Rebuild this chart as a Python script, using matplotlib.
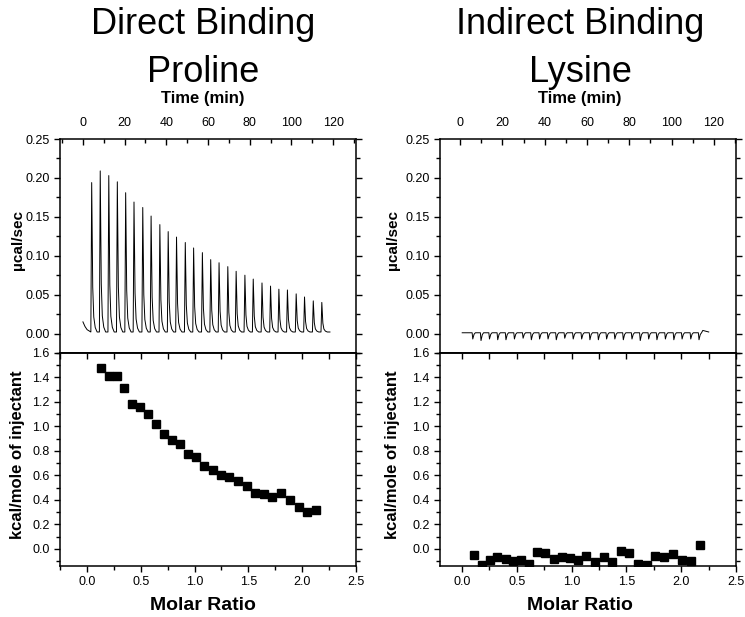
import matplotlib
matplotlib.use("Agg")
import matplotlib.pyplot as plt
from matplotlib.ticker import MultipleLocator, FormatStrFormatter

plt.rcParams["font.family"] = ["Liberation Sans", "DejaVu Sans"]

# ---- raw thermogram, proline (time in min, peak top in ucal/sec)
pro_peak_t = [4.2, 8.3, 12.4, 16.5, 20.5, 24.5, 28.7, 32.7, 36.9, 40.9,
              44.9, 49.1, 53.1, 57.3, 61.3, 65.3, 69.5, 73.5, 77.7, 81.7,
              85.9, 90.0, 94.0, 98.1, 102.3, 106.3, 110.5, 114.6]
pro_peak_h = [0.194, 0.209, 0.203, 0.195, 0.181, 0.169, 0.162, 0.151, 0.140, 0.131,
              0.124, 0.117, 0.110, 0.104, 0.095, 0.091, 0.086, 0.080, 0.075, 0.070,
              0.065, 0.061, 0.057, 0.056, 0.051, 0.047, 0.042, 0.040]
pro_start_t = [0.0, 1.0, 2.0, 3.2]
pro_start_y = [0.015, 0.009, 0.005, 0.003]
pro_base = 0.002
pro_end_t = 118.5

# ---- raw thermogram, lysine (small negative spikes)
lys_spike_t = [6.0, 9.9, 13.9, 17.8, 21.7, 25.7, 29.8, 33.7, 37.6, 41.6,
               45.5, 49.5, 53.5, 57.5, 61.4, 65.4, 69.3, 73.2, 77.2, 81.3,
               85.2, 89.2, 93.1, 97.1, 101.1, 105.0, 109.1, 113.0]
lys_spike_d = [-0.007, -0.009, -0.007, -0.008, -0.008, -0.007, -0.006, -0.008, -0.007, -0.007,
               -0.008, -0.006, -0.007, -0.007, -0.008, -0.008, -0.007, -0.007, -0.008, -0.007,
               -0.009, -0.007, -0.008, -0.007, -0.008, -0.007, -0.007, -0.008]
lys_base = 0.001
lys_start_t = 1.0
lys_tail_t = [114.8, 117.6]
lys_tail_y = [0.004, 0.002]

# ---- integrated heats (kcal/mole of injectant)
pro_ratio = [0.130, 0.205, 0.276, 0.347, 0.419, 0.493, 0.564, 0.639, 0.713, 0.788,
             0.862, 0.940, 1.014, 1.091, 1.169, 1.247, 1.321, 1.405, 1.485, 1.566,
             1.644, 1.721, 1.802, 1.885, 1.969, 2.049, 2.130]
pro_heat = [1.478, 1.415, 1.415, 1.317, 1.184, 1.159, 1.105, 1.023, 0.939, 0.887,
            0.860, 0.776, 0.754, 0.675, 0.642, 0.601, 0.590, 0.555, 0.517, 0.460,
            0.449, 0.422, 0.454, 0.400, 0.346, 0.302, 0.318]
lys_ratio = [0.111, 0.182, 0.253, 0.324, 0.398, 0.466, 0.537, 0.611, 0.688, 0.759,
             0.836, 0.910, 0.985, 1.058, 1.136, 1.213, 1.293, 1.370, 1.448, 1.525,
             1.605, 1.685, 1.765, 1.846, 1.926, 2.006, 2.086, 2.173]
lys_heat = [-0.050, -0.128, -0.090, -0.063, -0.080, -0.100, -0.087, -0.120, -0.027, -0.035,
            -0.080, -0.063, -0.073, -0.087, -0.060, -0.106, -0.068, -0.106, -0.016, -0.033,
            -0.120, -0.128, -0.060, -0.068, -0.046, -0.095, -0.100, 0.033]

# peak outline: (time offset from peak top, fraction of peak height)
PEAK_SHAPE = [(-0.4, 0.0), (0.0, 1.0), (0.5, 0.3), (1.0, 0.1), (1.7, 0.03), (2.6, 0.0)]
SPIKE_SHAPE = [(-0.3, 0.0), (0.0, 1.0), (0.6, 0.25), (1.2, 0.0)]


def build_trace(peak_t, peak_h, base, shape):
    t, y = [], []
    for pt, ph in zip(peak_t, peak_h):
        for dt, f in shape:
            t.append(pt + dt)
            y.append(base + f * (ph - base))
    return t, y


pt_, py_ = build_trace(pro_peak_t, pro_peak_h, pro_base, PEAK_SHAPE)
pro_t = pro_start_t + pt_ + [pro_end_t]
pro_y = pro_start_y + py_ + [pro_base]

lt_, ly_ = build_trace(lys_spike_t, lys_spike_d, lys_base, SPIKE_SHAPE)
lys_t = [lys_start_t] + lt_ + lys_tail_t
lys_y = [lys_base] + ly_ + lys_tail_y

W, H = 745, 617
fig = plt.figure(figsize=(W / 100, H / 100), dpi=100)


def px(x0, y0, x1, y1):
    return [x0 / W, 1 - y1 / H, (x1 - x0) / W, (y1 - y0) / H]


def style_top(ax, xlim):
    ax.set_xlim(*xlim)
    ax.set_ylim(-0.025, 0.25)
    ax.xaxis.tick_top()
    ax.xaxis.set_major_locator(MultipleLocator(20))
    ax.xaxis.set_minor_locator(MultipleLocator(10))
    ax.yaxis.set_major_locator(MultipleLocator(0.05))
    ax.yaxis.set_minor_locator(MultipleLocator(0.025))
    ax.yaxis.set_major_formatter(FormatStrFormatter("%.2f"))
    ax.tick_params(axis="x", which="both", direction="in", top=True, bottom=False,
                   labeltop=True, labelbottom=False, pad=7)
    ax.tick_params(axis="y", which="both", direction="out", left=True, right=True, pad=3)
    ax.tick_params(which="major", length=4.5, width=1, labelsize=9)
    ax.tick_params(which="minor", length=3, width=1)
    for s in ax.spines.values():
        s.set_linewidth(1.1)


def style_bot(ax, xlim):
    ax.set_xlim(*xlim)
    ax.set_ylim(-0.14, 1.6)
    ax.xaxis.set_major_locator(MultipleLocator(0.5))
    ax.xaxis.set_minor_locator(MultipleLocator(0.25))
    ax.xaxis.set_major_formatter(FormatStrFormatter("%.1f"))
    ax.yaxis.set_major_locator(MultipleLocator(0.2))
    ax.yaxis.set_minor_locator(MultipleLocator(0.1))
    ax.yaxis.set_major_formatter(FormatStrFormatter("%.1f"))
    ax.tick_params(axis="x", which="both", direction="out", pad=3)
    ax.tick_params(axis="y", which="both", direction="out", left=True, right=True, pad=3)
    ax.tick_params(which="major", length=4.5, width=1, labelsize=9)
    ax.tick_params(which="minor", length=3, width=1)
    # inward ticks along the shared border with the thermogram
    sec = ax.secondary_xaxis("top")
    sec.xaxis.set_major_locator(MultipleLocator(0.25))
    sec.tick_params(direction="in", length=4, width=1, labeltop=False)
    sec.spines["top"].set_linewidth(1.1)
    for s in ax.spines.values():
        s.set_linewidth(1.1)


panels = [
    (60, 356, (-11, 131), (-0.25, 2.5), pro_t, pro_y, pro_ratio, pro_heat,
     "Direct Binding", "Proline", 203, 18),
    (440, 736, (-9.5, 130.5), (-0.2, 2.5), lys_t, lys_y, lys_ratio, lys_heat,
     "Indirect Binding", "Lysine", 580, 393),
]

for x0, x1, tlim, rlim, tt, ty, rx, ry, t1, t2, cx, ylx in panels:
    ax_t = fig.add_axes(px(x0, 139, x1, 353))
    ax_b = fig.add_axes(px(x0, 353, x1, 566))
    ax_t.plot(tt, ty, color="black", linewidth=0.7)
    ax_b.plot(rx, ry, linestyle="none", marker="s", markersize=5.5, color="black")
    style_top(ax_t, tlim)
    style_bot(ax_b, rlim)

    fig.text(cx / W, 1 - 25 / H, t1, ha="center", va="center", fontsize=26)
    fig.text(cx / W, 1 - 72 / H, t2, ha="center", va="center", fontsize=26)
    fig.text(cx / W, 1 - 98 / H, "Time (min)", ha="center", va="center",
             fontsize=12, fontweight="bold")
    fig.text(cx / W, 1 - 606 / H, "Molar Ratio", ha="center", va="center",
             fontsize=14, fontweight="bold")
    fig.text(ylx / W, 1 - 240 / H, "\u00b5cal/sec", ha="center", va="center",
             rotation=90, fontsize=11, fontweight="bold")
    fig.text(ylx / W, 1 - 455 / H, "kcal/mole of injectant", ha="center", va="center",
             rotation=90, fontsize=12, fontweight="bold")

fig.savefig("out.png", dpi=100)
